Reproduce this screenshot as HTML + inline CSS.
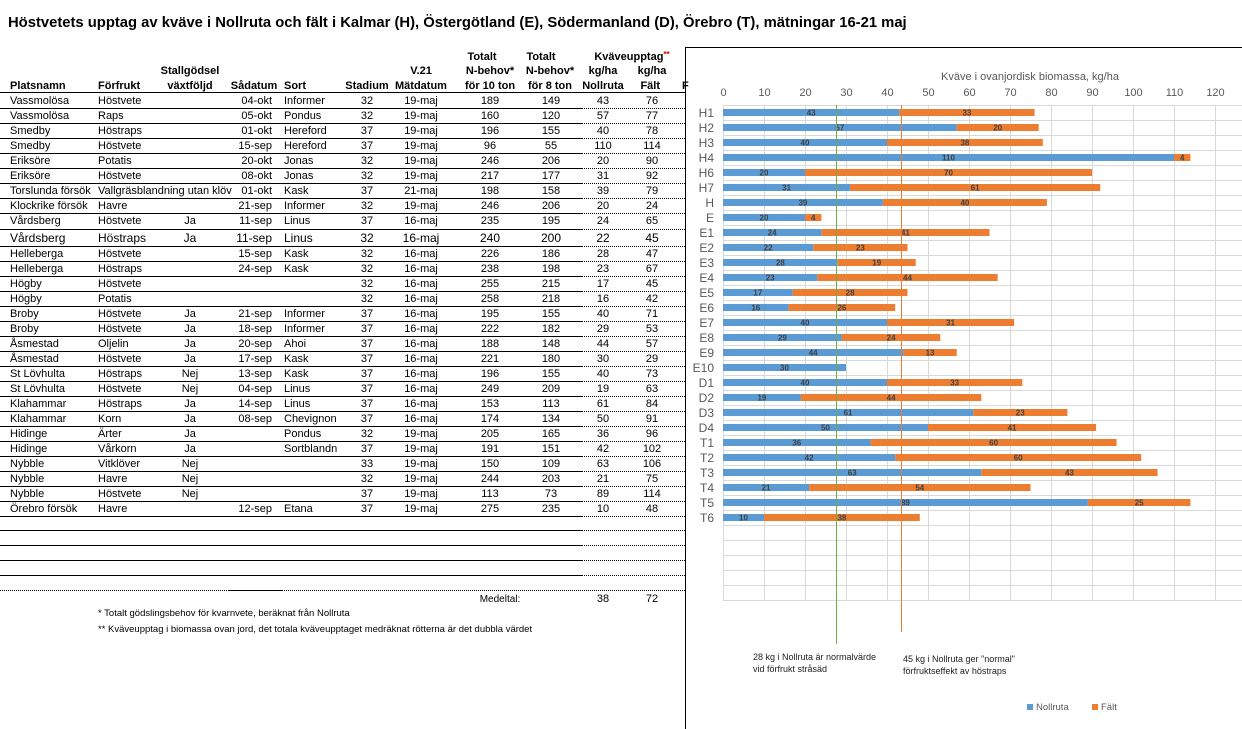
<!DOCTYPE html>
<html><head><meta charset="utf-8"><style>
body{margin:0;background:#fff}
svg{display:block;font-family:"Liberation Sans",Arial,sans-serif}
</style></head><body>
<svg id="s" width="1242" height="729" xmlns="http://www.w3.org/2000/svg">
<text x="8" y="27" font-size="14.8" font-weight="bold">Höstvetets upptag av kväve i Nollruta och fält i Kalmar (H), Östergötland (E), Södermanland (D), Örebro (T), mätningar 16-21 maj</text>
<g id="tbl" font-size="11"></g>
<g id="chart"></g>
</svg>
<script>
const NS="http://www.w3.org/2000/svg";
function el(p,t,a,txt){const e=document.createElementNS(NS,t);for(const k in a)e.setAttribute(k,a[k]);if(txt!==undefined)e.textContent=txt;p.appendChild(e);return e;}
const T=document.getElementById('tbl');
const hb={'font-weight':'bold'};
function ht(x,y,s,anchor){el(T,'text',Object.assign({x:x,y:y,'text-anchor':anchor||'start'},hb),s);}
ht(482,60,'Totalt','middle');ht(541,60,'Totalt','middle');
const kv=el(T,'text',{x:632,y:60,'text-anchor':'middle','font-weight':'bold'},'Kväveupptag');
el(kv,'tspan',{fill:'#c00','font-size':'8',dy:'-3'},'**');
ht(190,74,'Stallgödsel','middle');ht(421,74,'V.21','middle');ht(490,74,'N-behov*','middle');ht(550,74,'N-behov*','middle');ht(603,74,'kg/ha','middle');ht(652,74,'kg/ha','middle');
ht(10,89,'Platsnamn');ht(98,89,'Förfrukt');ht(190,89,'växtföljd','middle');ht(254,89,'Sådatum','middle');ht(284,89,'Sort');ht(367,89,'Stadium','middle');ht(421,89,'Mätdatum','middle');ht(490,89,'för 10 ton','middle');ht(550,89,'för 8 ton','middle');ht(603,89,'Nollruta','middle');ht(660,89,'Fält','end');
ht(682,89,'F');
const rows=`Vassmolösa|Höstvete||04-okt|Informer|32|19-maj|189|149|43|76
Vassmolösa|Raps||05-okt|Pondus|32|19-maj|160|120|57|77
Smedby|Höstraps||01-okt|Hereford|37|19-maj|196|155|40|78
Smedby|Höstvete||15-sep|Hereford|37|19-maj|96|55|110|114
Eriksöre|Potatis||20-okt|Jonas|32|19-maj|246|206|20|90
Eriksöre|Höstvete||08-okt|Jonas|32|19-maj|217|177|31|92
Torslunda försök|Vallgräsblandning utan klöv||01-okt|Kask|37|21-maj|198|158|39|79
Klockrike försök|Havre||21-sep|Informer|32|19-maj|246|206|20|24
Vårdsberg|Höstvete|Ja|11-sep|Linus|37|16-maj|235|195|24|65
Vårdsberg|Höstraps|Ja|11-sep|Linus|32|16-maj|240|200|22|45
Helleberga|Höstvete||15-sep|Kask|32|16-maj|226|186|28|47
Helleberga|Höstraps||24-sep|Kask|32|16-maj|238|198|23|67
Högby|Höstvete||||32|16-maj|255|215|17|45
Högby|Potatis||||32|16-maj|258|218|16|42
Broby|Höstvete|Ja|21-sep|Informer|37|16-maj|195|155|40|71
Broby|Höstvete|Ja|18-sep|Informer|37|16-maj|222|182|29|53
Åsmestad|Oljelin|Ja|20-sep|Ahoi|37|16-maj|188|148|44|57
Åsmestad|Höstvete|Ja|17-sep|Kask|37|16-maj|221|180|30|29
St Lövhulta|Höstraps|Nej|13-sep|Kask|37|16-maj|196|155|40|73
St Lövhulta|Höstvete|Nej|04-sep|Linus|37|16-maj|249|209|19|63
Klahammar|Höstraps|Ja|14-sep|Linus|37|16-maj|153|113|61|84
Klahammar|Korn|Ja|08-sep|Chevignon|37|16-maj|174|134|50|91
Hidinge|Ärter|Ja||Pondus|32|19-maj|205|165|36|96
Hidinge|Vårkorn|Ja||Sortblandn|37|19-maj|191|151|42|102
Nybble|Vitklöver|Nej|||33|19-maj|150|109|63|106
Nybble|Havre|Nej|||32|19-maj|244|203|21|75
Nybble|Höstvete|Nej|||37|19-maj|113|73|89|114
Örebro försök|Havre||12-sep|Etana|37|19-maj|275|235|10|48`.split('\n');
function hline(y,x1,x2,dot){el(T,'line',{x1:x1,x2:x2,y1:y,y2:y,stroke:'#000','stroke-width':1,'stroke-dasharray':dot?'1,1':'none'});}
hline(92.5,0,685);
let yc=100;
rows.forEach((line,i)=>{
 const c=line.split('|');
 const y=yc+4;
 const fs=i==9?12:11;
 const a=(x,s,an)=>{if(s)el(T,'text',{x:x,y:y,'text-anchor':an||'start','font-size':fs},s);};
 a(10,c[0]);a(98,c[1]);a(190,c[2],'middle');a(272,c[3],'end');a(284,c[4]);a(367,c[5],'middle');a(421,c[6],'middle');a(490,c[7],'middle');a(551,c[8],'middle');a(603,c[9],'middle');a(652,c[10],'middle');
 const b=yc+(i==8?9:7.5);
 hline(Math.round(b)+.5,0,582);hline(Math.round(b)+.5,582,685,true);
 yc+= (i==8?18:15);
});
[530,545,560,575].forEach(y=>{hline(y+.5,0,582);hline(y+.5,582,685,true);});
hline(590.5,0,685,true);hline(590.5,228,282);
el(T,'text',{x:500,y:602,'text-anchor':'middle','font-size':10},'Medeltal:');
el(T,'text',{x:603,y:602,'text-anchor':'middle'},'38');
el(T,'text',{x:652,y:602,'text-anchor':'middle'},'72');
el(T,'text',{x:98,y:616,'font-size':9.5},'* Totalt gödslingsbehov för  kvarnvete, beräknat från Nollruta');
el(T,'text',{x:98,y:632,'font-size':9.5},'** Kväveupptag i biomassa ovan jord, det totala kväveupptaget medräknat rötterna är det dubbla värdet');
const C=document.getElementById('chart');
el(C,'line',{x1:685.5,x2:685.5,y1:47,y2:729,stroke:'#000'});
el(C,'line',{x1:685,x2:1242,y1:47.5,y2:47.5,stroke:'#000'});
const x0=723,sc=4.1;
for(let v=0;v<=120;v+=10){const x=Math.round(x0+v*sc)+.5;
 el(C,'line',{x1:x,x2:x,y1:105,y2:600,stroke:'#d9d9d9'});
 el(C,'text',{x:x,y:96,'text-anchor':'middle','font-size':11,fill:'#595959'},v);}
for(let k=0;k<=33;k++){const y=105+k*15+.5;el(C,'line',{x1:x0,x2:1242,y1:y,y2:y,stroke:'#d9d9d9'});}
el(C,'text',{x:1030,y:80,'text-anchor':'middle','font-size':11,fill:'#595959'},'Kväve i ovanjordisk biomassa, kg/ha');
const d=[['H1',43,33],['H2',57,20],['H3',40,38],['H4',110,4],['H6',20,70],['H7',31,61],['H',39,40],['E',20,4],['E1',24,41],['E2',22,23],['E3',28,19],['E4',23,44],['E5',17,28],['E6',16,26],['E7',40,31],['E8',29,24],['E9',44,13],['E10',30,0],['D1',40,33],['D2',19,44],['D3',61,23],['D4',50,41],['T1',36,60],['T2',42,60],['T3',63,43],['T4',21,54],['T5',89,25],['T6',10,38]];
d.forEach((r,i)=>{const yc=112.5+i*15;
 el(C,'text',{x:714,y:yc+4.5,'text-anchor':'end','font-size':12,fill:'#595959'},r[0]);
 const wb=r[1]*sc,wo=r[2]*sc;
 el(C,'rect',{x:x0,y:yc-3.5,width:wb,height:7,fill:'#5b9bd5'});
 if(r[2])el(C,'rect',{x:x0+wb,y:yc-3.5,width:wo,height:7,fill:'#ed7d31'});
 el(C,'text',{x:x0+wb/2,y:yc+3,'text-anchor':'middle','font-size':8,'font-weight':'bold',fill:'#404040'},r[1]);
 if(r[2])el(C,'text',{x:x0+wb+wo/2,y:yc+3,'text-anchor':'middle','font-size':8,'font-weight':'bold',fill:'#404040'},r[2]);
});
el(C,'line',{x1:836.5,x2:836.5,y1:105,y2:644,stroke:'#70ad47','stroke-width':1});
el(C,'line',{x1:901.5,x2:901.5,y1:105,y2:632,stroke:'#ed7d31','stroke-width':1});
el(C,'text',{x:753,y:660,'font-size':9,fill:'#222'},'28 kg i Nollruta är normalvärde');
el(C,'text',{x:753,y:672,'font-size':9,fill:'#222'},'vid förfrukt stråsäd');
el(C,'text',{x:903,y:662,'font-size':9,fill:'#222'},'45 kg i Nollruta ger "normal"');
el(C,'text',{x:903,y:674,'font-size':9,fill:'#222'},'förfruktseffekt av höstraps');
el(C,'rect',{x:1027,y:704,width:6,height:6,fill:'#5b9bd5'});
el(C,'text',{x:1036,y:710,'font-size':9.5,fill:'#595959'},'Nollruta');
el(C,'rect',{x:1092,y:704,width:6,height:6,fill:'#ed7d31'});
el(C,'text',{x:1101,y:710,'font-size':9.5,fill:'#595959'},'Fält');
</script>
</body></html>
